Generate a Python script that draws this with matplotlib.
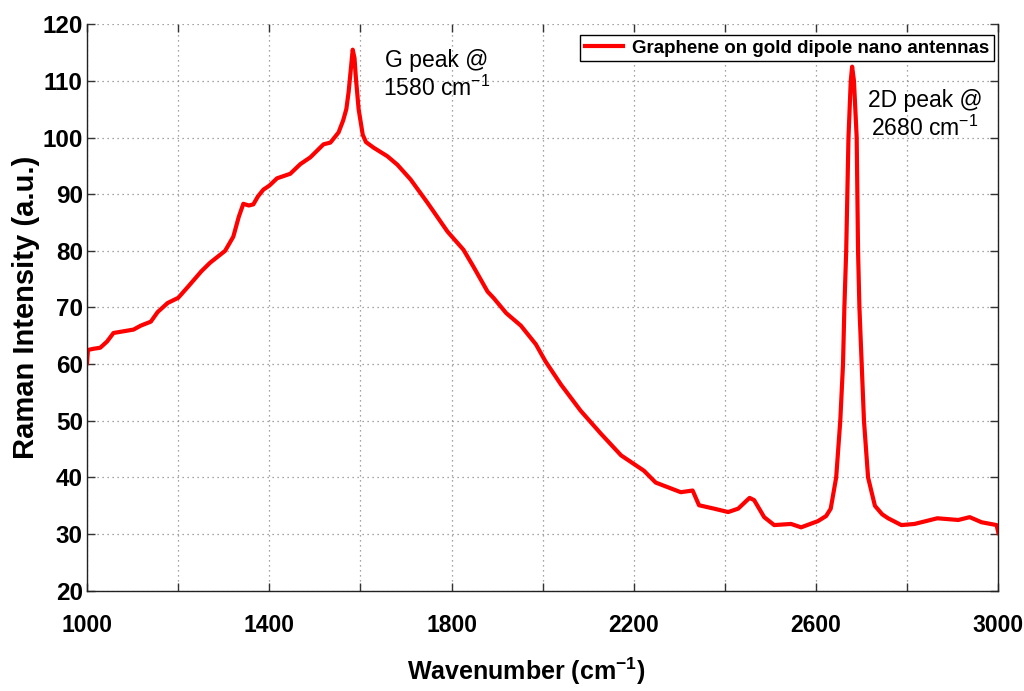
import matplotlib
matplotlib.use('Agg')
import matplotlib.pyplot as plt

# Raman spectrum
wavenumber = [1000, 1002, 1013, 1029, 1044, 1058, 1080, 1102, 1118, 1140, 1155, 1177,
              1200, 1222, 1251, 1270, 1303, 1321, 1333, 1343, 1355, 1365, 1375, 1387,
              1400, 1417, 1446, 1468, 1490, 1519, 1534, 1552, 1562, 1569, 1574, 1577,
              1583, 1587, 1590, 1596, 1605, 1612, 1629, 1659, 1681, 1710, 1747, 1791,
              1826, 1848, 1879, 1892, 1920, 1952, 1985, 2006, 2040, 2083, 2128, 2172,
              2222, 2248, 2303, 2329, 2343, 2376, 2407, 2429, 2446, 2454, 2464, 2486,
              2508, 2545, 2567, 2604, 2622, 2632, 2644, 2653, 2659, 2662, 2666, 2671,
              2676, 2679, 2683, 2689, 2692, 2695, 2700, 2705, 2714, 2729, 2745, 2758,
              2787, 2816, 2866, 2912, 2937, 2963, 2996, 3000]
intensity = [60.2, 62.5, 62.7, 62.9, 64.0, 65.5, 65.8, 66.1, 66.8, 67.5, 69.2, 70.8,
             71.7, 73.7, 76.4, 77.9, 80.0, 82.5, 86.0, 88.3, 88.0, 88.2, 89.6, 90.8,
             91.5, 92.8, 93.6, 95.3, 96.5, 98.8, 99.1, 100.9, 103.0, 105.0, 108.0, 110.5,
             115.5, 114.0, 110.5, 105.0, 100.5, 99.2, 98.2, 96.7, 95.2, 92.6, 88.5, 83.4,
             80.2, 77.2, 72.8, 71.7, 69.0, 66.8, 63.5, 60.5, 56.4, 51.8, 47.7, 43.9,
             41.2, 39.1, 37.4, 37.7, 35.1, 34.5, 33.9, 34.5, 35.8, 36.4, 36.0, 33.0,
             31.6, 31.8, 31.2, 32.3, 33.2, 34.5, 40.0, 50.0, 60.0, 70.0, 80.0, 100.0,
             110.0, 112.5, 110.0, 100.0, 80.0, 70.0, 60.0, 50.0, 40.0, 35.0, 33.5, 32.8,
             31.6, 31.8, 32.8, 32.5, 33.0, 32.1, 31.6, 30.2]

series_label = 'Graphene on gold dipole nano antennas'
xticks = [1000, 1200, 1400, 1600, 1800, 2000, 2200, 2400, 2600, 2800, 3000]
xtick_labels = ['1000', '', '1400', '', '1800', '', '2200', '', '2600', '', '3000']
yticks = [20, 30, 40, 50, 60, 70, 80, 90, 100, 110, 120]

plt.rcParams['font.family'] = ['Liberation Sans', 'DejaVu Sans']
plt.rcParams['mathtext.default'] = 'regular'

fig = plt.figure(figsize=(10.24, 6.91), dpi=100)
ax = fig.add_axes([0.085, 0.145, 0.890, 0.820])

ax.plot(wavenumber, intensity, color='red', linewidth=3, label=series_label)

ax.set_xlim(1000, 3000)
ax.set_ylim(20, 120)
ax.set_xticks(xticks)
ax.set_xticklabels(xtick_labels, fontweight='bold', fontsize=16.5)
ax.set_yticks(yticks)
ax.set_yticklabels([str(v) for v in yticks], fontweight='bold', fontsize=17.5)
ax.tick_params(direction='in', length=6, width=1, top=True, right=True, color='#333333')
ax.tick_params(axis='x', pad=17)
ax.tick_params(axis='y', pad=3)

ax.grid(True, color='#888888', linestyle=(0, (1, 3)), linewidth=0.9)
ax.spines['top'].set_visible(False)
for side in ['left', 'right', 'bottom']:
    ax.spines[side].set_color('#222222')
    ax.spines[side].set_linewidth(1)

ax.set_xlabel('Wavenumber (cm$^{-1}$)', fontweight='bold', fontsize=18)
ax.xaxis.set_label_coords(0.482, -0.115)
ax.set_ylabel('Raman Intensity (a.u.)', fontweight='bold', fontsize=21)
ax.yaxis.set_label_coords(-0.052, 0.5)

ax.text(1768, 111, 'G peak @\n1580 cm$^{-1}$', fontsize=16.5, ha='center', va='center',
        multialignment='center')
ax.text(2839, 104, '2D peak @\n2680 cm$^{-1}$', fontsize=16.5, ha='center', va='center',
        multialignment='center')

leg = ax.legend(loc='upper right', bbox_to_anchor=(0.995, 0.981), borderaxespad=0,
                fancybox=False, framealpha=1, edgecolor='black', handlelength=2.0,
                handletextpad=0.5, borderpad=0.25,
                prop={'weight': 'bold', 'size': 13.5})
leg.get_frame().set_linewidth(1)

fig.savefig('out.png', dpi=100)
